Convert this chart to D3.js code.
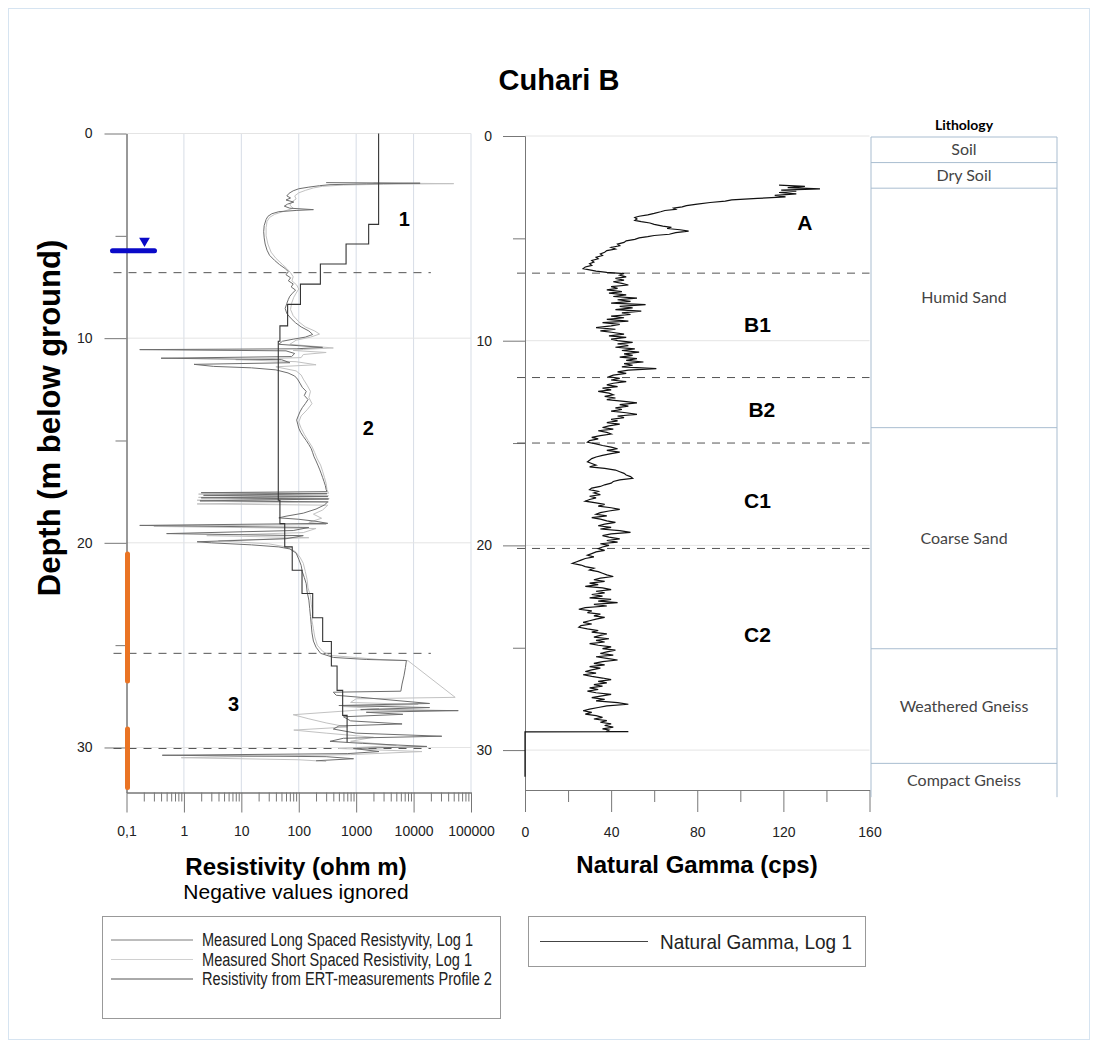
<!DOCTYPE html>
<html>
<head>
<meta charset="utf-8">
<script src="https://cdn.jsdelivr.net/npm/d3@7"></script>
<style>
body { margin: 0; background: #fff; }
text { font-family: "Liberation Sans", Arial, sans-serif; }
.narrow { font-family: "Liberation Sans Narrow", "Arial Narrow", "Liberation Sans", sans-serif; }
.litho { font-family: Lato, "Open Sans", sans-serif; }
</style>
</head>
<body>
<svg id="chart" width="1099" height="1048"></svg>
<script>
// ---- data ----
var resTicks = [0.1, 1, 10, 100, 1000, 10000, 100000];
var resTickLabels = ["0,1", "1", "10", "100", "1000", "10000", "100000"];
var depthTicks = [0, 10, 20, 30];
var depthMinor = [5, 15, 25];
var gammaTicks = [0, 40, 80, 120, 160];
var gammaMinor = [20, 60, 100, 140];

// measured long spaced resistivity [depth m, ohm m]
var longSpaced = [[2.40,300],[2.43,13000],[2.46,1500],[2.50,350],[2.55,230],[2.62,150],[2.70,100],[2.80,80],[2.92,68],[3.05,62],[3.15,72],[3.25,60],[3.35,82],[3.45,64],[3.55,56],[3.65,70],[3.72,180],[3.76,90],[3.82,45],[3.92,34],[4.05,29],[4.20,27],[4.50,25],[4.80,24.5],[5.10,25],[5.40,26],[5.70,28],[5.95,31],[6.20,38],[6.40,46],[6.60,58],[6.75,66],[6.90,60],[7.05,72],[7.20,66],[7.35,80],[7.50,74],[7.65,88],[7.80,78],[7.95,70],[8.10,66],[8.30,62],[8.55,58],[8.80,62],[9.05,74],[9.25,88],[9.45,110],[9.65,150],[9.82,175],[9.95,130],[10.05,80],[10.15,52],[10.30,45],[10.45,260],[10.52,90],[10.56,0.17],[10.62,60],[10.75,85],[10.90,75],[10.98,0.4],[11.05,50],[11.20,70],[11.28,1.5],[11.38,3.3],[11.45,15],[11.55,40],[11.70,65],[11.85,85],[12.00,95],[12.20,105],[12.40,115],[12.60,135],[12.80,125],[13.00,145],[13.20,130],[13.40,115],[13.60,105],[13.80,98],[14.00,92],[14.20,96],[14.40,100],[14.60,108],[14.80,120],[15.00,135],[15.20,150],[15.40,165],[15.60,175],[15.80,185],[16.00,200],[16.20,215],[16.40,230],[16.60,245],[16.80,260],[17.00,275],[17.20,290],[17.40,300],[17.50,310],[17.55,2.0],[17.60,310],[17.68,2.2],[17.74,320],[17.80,2.0],[17.86,330],[17.95,1.9],[18.00,320],[18.15,280],[18.35,200],[18.55,120],[18.70,60],[18.78,45],[18.85,100],[18.95,200],[19.05,320],[19.15,0.17],[19.25,150],[19.40,80],[19.55,0.5],[19.65,120],[19.80,60],[19.95,1.7],[20.00,3.0],[20.10,15],[20.20,45],[20.30,70],[20.50,90],[20.80,100],[21.10,110],[21.40,115],[21.70,125],[22.00,135],[22.40,140],[22.80,150],[23.20,155],[23.60,160],[24.00,165],[24.40,170],[24.80,180],[25.10,200],[25.40,240],[25.60,400],[25.70,1500],[25.75,7500],[26.10,7200],[26.50,6800],[26.90,6300],[27.25,6000],[27.30,400],[27.45,450],[27.55,1200],[27.85,19000],[27.95,500],[28.05,19000],[28.15,1200],[28.20,60000],[28.28,1500],[28.38,6500],[28.50,600],[28.70,800],[28.85,6300],[28.95,500],[29.10,400],[29.30,1000],[29.45,31000],[29.55,600],[29.70,350],[29.80,1300],[29.95,17000],[30.05,900],[30.20,2500],[30.30,700],[30.38,0.42],[30.45,300],[30.55,900],[30.65,200]];

// measured short spaced resistivity [depth m, ohm m]
var shortSpaced = [[2.42,2000],[2.45,50000],[2.48,3000],[2.52,600],[2.58,260],[2.66,180],[2.78,130],[2.90,100],[3.05,85],[3.20,90],[3.35,75],[3.50,70],[3.65,80],[3.80,55],[3.95,38],[4.10,31],[4.30,28],[4.60,27],[5.00,27],[5.40,29],[5.80,33],[6.10,40],[6.40,52],[6.60,62],[6.80,72],[7.00,80],[7.20,76],[7.40,92],[7.60,100],[7.80,90],[8.00,82],[8.30,75],[8.60,72],[8.90,80],[9.20,100],[9.45,130],[9.65,190],[9.80,230],[9.95,160],[10.10,90],[10.30,70],[10.48,400],[10.55,120],[10.60,80],[10.70,300],[10.80,120],[10.95,110],[11.05,8],[11.15,90],[11.30,200],[11.40,40],[11.60,90],[11.80,110],[12.00,120],[12.30,140],[12.60,160],[12.90,150],[13.20,170],[13.50,140],[13.80,110],[14.10,100],[14.40,110],[14.70,125],[15.00,145],[15.30,170],[15.60,190],[15.90,210],[16.20,240],[16.50,260],[16.80,280],[17.10,300],[17.40,310],[17.58,330],[17.62,1.8],[17.70,330],[17.78,1.8],[17.84,340],[17.92,1.7],[18.00,330],[18.10,1.7],[18.16,320],[18.40,260],[18.60,180],[18.80,250],[19.00,150],[19.10,300],[19.20,0.3],[19.30,200],[19.50,120],[19.65,2.5],[19.75,150],[19.90,4],[20.05,30],[20.20,60],[20.40,85],[20.70,105],[21.00,120],[21.40,130],[21.80,140],[22.20,145],[22.60,160],[23.00,165],[23.40,175],[23.80,170],[24.20,180],[24.60,190],[25.00,210],[25.30,260],[25.50,350],[25.70,2500],[25.76,8000],[27.55,53000],[27.62,1000],[27.80,800],[27.90,12000],[28.00,600],[28.10,2500],[28.40,80],[28.60,150],[28.80,300],[29.00,700],[29.15,82],[29.30,300],[29.50,2000],[29.70,800],[29.90,5000],[30.05,500],[30.20,14000],[30.35,800],[30.50,0.9],[30.60,100],[30.68,300]];

// ERT profile 2, layer tops / bottoms (m) and resistivity (ohm m)
var ertTop = [0, 4.44, 5.40, 6.38, 7.36, 8.35, 9.40, 10.15, 17.92, 19.06, 20.20, 21.34, 22.48, 23.66, 24.82, 26.02, 27.21, 28.43];
var ertBottom = [4.44, 5.40, 6.38, 7.36, 8.35, 9.40, 10.15, 17.92, 19.06, 20.20, 21.34, 22.48, 23.66, 24.82, 26.02, 27.21, 28.43, 29.75];
var ertValue = [2460, 1650, 667, 238, 107, 64, 47, 44, 47, 57, 77, 114, 175, 261, 370, 465, 582, 695];

// natural gamma [depth m, cps]
var gamma = [[2.40,118],[2.46,130],[2.52,122],[2.58,137],[2.64,119],[2.70,126],[2.76,118],[2.83,126],[2.90,116],[2.97,121],[3.05,108],[3.12,96],[3.18,93],[3.25,86],[3.33,80],[3.40,75],[3.46,73],[3.52,69],[3.58,70],[3.64,65],[3.70,63],[3.78,60],[3.85,57],[3.92,53],[3.98,51],[4.05,52],[4.12,51],[4.18,54],[4.25,58],[4.32,60],[4.40,64],[4.46,68],[4.52,66],[4.58,72],[4.65,76],[4.72,70],[4.80,67],[4.86,60],[4.92,57],[4.98,53],[5.05,51],[5.12,47],[5.20,46],[5.28,43],[5.36,44],[5.44,40],[5.52,42],[5.60,38],[5.68,37],[5.76,35],[5.84,36],[5.92,33],[6.00,34],[6.08,31],[6.16,32],[6.24,30],[6.32,31],[6.40,28],[6.48,27],[6.54,30],[6.60,33],[6.66,38],[6.72,46],
 [6.80,44],[6.88,47],[6.96,42],[7.04,46],[7.12,41],[7.20,45],[7.28,48],[7.36,40],[7.44,43],[7.52,38],[7.60,45],[7.68,39],[7.76,47],[7.84,41],[7.92,52],[8.00,43],[8.08,49],[8.16,40],[8.24,56],[8.32,44],[8.40,50],[8.48,42],[8.56,54],[8.64,45],[8.72,49],[8.80,40],[8.88,46],[8.96,38],[9.04,48],[9.12,36],[9.20,44],[9.28,40],[9.36,33],[9.44,42],[9.52,35],[9.60,41],[9.68,46],[9.76,39],[9.84,47],[9.92,40],[10.00,43],[10.08,50],[10.16,43],[10.24,48],[10.32,42],[10.40,51],[10.48,45],[10.56,53],[10.64,46],[10.72,50],[10.80,44],[10.88,52],[10.96,47],[11.04,55],[11.12,46],[11.20,50],[11.28,45],[11.36,61],[11.44,48],[11.52,43],[11.60,47],[11.68,41],[11.76,39],[11.84,44],[11.92,40],[12.00,47],[12.08,41],[12.16,38],[12.24,43],[12.32,36],[12.40,40],[12.48,34],[12.56,39],[12.64,41],[12.72,37],[12.80,42],[12.88,38],[12.96,46],[13.04,52],[13.12,44],[13.20,48],[13.28,42],[13.36,45],[13.44,40],[13.52,47],[13.60,52],[13.68,43],[13.76,46],[13.84,40],[13.92,43],[14.00,38],[14.08,44],[14.16,39],[14.24,36],[14.32,41],[14.40,34],[14.48,38],[14.56,40],[14.64,35],[14.72,31],[14.80,34],[14.88,30],[14.96,29],[15.04,33],[15.12,36],[15.20,40],[15.28,43],[15.36,38],[15.44,44],[15.52,40],[15.60,36],[15.68,33],[15.76,31],[15.84,30],[15.92,29],[16.00,31],[16.08,33],[16.16,30],[16.24,37],[16.32,42],[16.40,44],[16.48,46],[16.56,47],[16.64,49],[16.72,50],[16.80,44],[16.88,41],[16.96,40],[17.04,37],[17.12,35],[17.20,31],[17.28,30],[17.36,34],[17.44,32],[17.52,35],[17.60,30],[17.68,33],[17.76,30],[17.84,28],[17.92,33],[18.00,37],[18.08,34],[18.16,40],[18.24,44],[18.32,39],[18.40,35],[18.48,33],[18.56,38],[18.64,31],[18.72,35],[18.80,38],[18.88,42],[18.96,37],[19.04,34],[19.12,40],[19.20,35],[19.28,44],[19.36,49],[19.44,40],[19.52,36],[19.60,39],[19.68,44],[19.76,38],[19.84,43],[19.92,35],[20.00,39],[20.08,36],[20.16,34],[20.24,37],[20.32,33],[20.40,31],[20.48,29],[20.56,32],[20.64,28],[20.72,26],[20.80,24],[20.88,22],[20.96,26],[21.04,28],[21.12,32],[21.20,30],[21.28,34],[21.36,36],[21.44,38],[21.52,41],[21.60,35],[21.68,32],[21.76,37],[21.84,30],[21.92,34],[22.00,28],[22.08,36],[22.16,40],[22.24,33],[22.32,37],[22.40,31],[22.48,36],[22.56,30],[22.64,40],[22.72,34],[22.80,43],[22.88,32],[22.96,38],[23.04,28],[23.12,25],[23.20,31],[23.28,29],[23.36,35],[23.44,32],[23.52,37],[23.60,33],[23.68,30],[23.76,27],[23.84,31],[23.92,26],[24.00,25],[24.08,29],[24.16,34],[24.24,31],[24.32,38],[24.40,35],[24.48,32],[24.56,39],[24.64,33],[24.72,37],[24.80,30],[24.88,34],[24.96,40],[25.04,36],[25.12,42],[25.20,38],[25.28,35],[25.36,41],[25.44,33],[25.52,38],[25.60,43],[25.68,36],[25.76,32],[25.84,37],[25.92,30],[26.00,35],[26.08,31],[26.16,28],[26.24,33],[26.32,27],[26.40,31],[26.48,36],[26.56,40],[26.64,34],[26.72,38],[26.80,32],[26.88,36],[26.96,30],[27.04,34],[27.12,29],[27.20,33],[27.28,40],[27.36,35],[27.44,31],[27.52,37],[27.60,33],[27.68,43],[27.76,48],[27.84,38],[27.92,34],[28.00,30],[28.08,27],[28.16,31],[28.24,28],[28.32,33],[28.40,36],[28.48,32],[28.56,38],[28.64,35],[28.72,40],[28.80,37],[28.88,41],[28.96,36],[29.02,39],[29.08,38],[29.10,48],[29.11,0],[31.30,0]];

var resBoundaries = [6.8, 25.4, 30.05];
var gammaBoundaries = [6.7, 11.8, 15.0, 20.15];
var waterLevel = 5.73;
var screenTop = [20.55, 29.1];
var screenBottom = [26.75, 31.95];

var resZoneNames = ["1", "2", "3"];
var resZoneValue = [6900, 1630, 7.3];
var resZoneDepth = [4.2, 14.4, 27.9];
var gammaZoneNames = ["A", "B1", "B2", "C1", "C2"];
var gammaZoneValue = [130, 108, 110, 108, 108];
var gammaZoneDepth = [4.25, 9.2, 13.35, 17.8, 24.35];

var lithoNames = ["Soil", "Dry Soil", "Humid Sand", "Coarse Sand", "Weathered Gneiss", "Compact Gneiss"];
var lithoTop = [0, 1.25, 2.5, 14.2, 25.0, 30.6];
var lithoBottom = [1.25, 2.5, 14.2, 25.0, 30.6, 32.3];

var resLegend = ["Measured Long Spaced Resistyvity, Log 1", "Measured Short Spaced Resistivity, Log 1", "Resistivity from ERT-measurements Profile 2"];
var gammaLegend = ["Natural Gamma, Log 1"];

// ---- drawing ----
var svg = d3.select("#chart");

svg.append("rect")
  .attr("x", 8.5).attr("y", 8.5)
  .attr("width", 1081).attr("height", 1031)
  .attr("fill", "none")
  .attr("stroke", "#d6e4f1");

svg.append("text")
  .attr("x", 559).attr("y", 90)
  .attr("text-anchor", "middle")
  .style("font-size", "29px").style("font-weight", "bold")
  .text("Cuhari B");

// scales
var xRes = d3.scaleLog().domain([0.1, 100000]).range([126.5, 471]);
var yRes = d3.scaleLinear().domain([0, 32.2]).range([133.5, 792.5]);
var xGam = d3.scaleLinear().domain([0, 160]).range([525, 869.5]);
var yGam = d3.scaleLinear().domain([0, 31.95]).range([136, 790]);

// left panel grid
var gL = svg.append("g");
gL.selectAll(".vgrid")
  .data(resTicks.slice(1))
  .enter().append("line")
  .attr("x1", function(d) { return xRes(d); })
  .attr("x2", function(d) { return xRes(d); })
  .attr("y1", yRes(0)).attr("y2", yRes.range()[1])
  .attr("stroke", "#d7dde6");
gL.selectAll(".hgrid")
  .data(depthTicks)
  .enter().append("line")
  .attr("x1", xRes.range()[0]).attr("x2", xRes.range()[1])
  .attr("y1", function(d) { return yRes(d); })
  .attr("y2", function(d) { return yRes(d); })
  .attr("stroke", "#e4e4e4");

// left axes
var leftMajor = svg.append("g")
  .attr("transform", "translate(" + xRes.range()[0] + ",0)")
  .call(d3.axisLeft(yRes).tickValues(depthTicks).tickSize(22).tickSizeOuter(0).tickPadding(12));
var leftMinor = svg.append("g")
  .attr("transform", "translate(" + xRes.range()[0] + ",0)")
  .call(d3.axisLeft(yRes).tickValues(depthMinor).tickSize(11).tickSizeOuter(0).tickFormat(""));

var minorRes = [];
resTicks.slice(0, -1).forEach(function(t) {
  [2, 3, 4, 5, 6, 7, 8, 9].forEach(function(m) { minorRes.push(t * m); });
});
var botMajor = svg.append("g")
  .attr("transform", "translate(0," + yRes.range()[1] + ")")
  .call(d3.axisBottom(xRes).tickValues(resTicks).tickSize(20).tickSizeOuter(0).tickPadding(14)
    .tickFormat(function(d, i) { return resTickLabels[i]; }));
var botMinor = svg.append("g")
  .attr("transform", "translate(0," + yRes.range()[1] + ")")
  .call(d3.axisBottom(xRes).tickValues(minorRes).tickSize(9).tickSizeOuter(0).tickFormat(""));

// right panel grid
var gR = svg.append("g");
gR.selectAll(".hgrid")
  .data(depthTicks)
  .enter().append("line")
  .attr("x1", xGam.range()[0]).attr("x2", xGam.range()[1])
  .attr("y1", function(d) { return yGam(d); })
  .attr("y2", function(d) { return yGam(d); })
  .attr("stroke", "#e4e4e4");

var rightMajor = svg.append("g")
  .attr("transform", "translate(" + xGam.range()[0] + ",0)")
  .call(d3.axisLeft(yGam).tickValues(depthTicks).tickSize(22).tickSizeOuter(0).tickPadding(11));
var rightMinor = svg.append("g")
  .attr("transform", "translate(" + xGam.range()[0] + ",0)")
  .call(d3.axisLeft(yGam).tickValues(depthMinor).tickSize(12).tickSizeOuter(0).tickFormat(""));
var gBotMajor = svg.append("g")
  .attr("transform", "translate(0," + yGam.range()[1] + ")")
  .call(d3.axisBottom(xGam).tickValues(gammaTicks).tickSize(22).tickSizeOuter(0).tickPadding(15));
var gBotMinor = svg.append("g")
  .attr("transform", "translate(0," + yGam.range()[1] + ")")
  .call(d3.axisBottom(xGam).tickValues(gammaMinor).tickSize(12).tickSizeOuter(0).tickFormat(""));

[leftMajor, leftMinor, botMajor, botMinor, rightMajor, rightMinor, gBotMajor, gBotMinor].forEach(function(ax) {
  ax.selectAll("path").attr("stroke", "#777");
  ax.selectAll("line").attr("stroke", "#777");
  ax.selectAll("text").style("font-size", "14px").attr("fill", "#222")
    .style("font-family", "'Liberation Sans', Arial, sans-serif");
});

// dashed boundaries
svg.selectAll(".resBound")
  .data(resBoundaries)
  .enter().append("line")
  .attr("x1", xRes.range()[0] - 13).attr("x2", xRes(20000))
  .attr("y1", function(d) { return yRes(d); })
  .attr("y2", function(d) { return yRes(d); })
  .attr("stroke", "#555").attr("stroke-dasharray", "8,7");
svg.selectAll(".gamBound")
  .data(gammaBoundaries)
  .enter().append("line")
  .attr("x1", xGam.range()[0] - 8).attr("x2", xGam.range()[1])
  .attr("y1", function(d) { return yGam(d); })
  .attr("y2", function(d) { return yGam(d); })
  .attr("stroke", "#555").attr("stroke-dasharray", "8,7");

// resistivity curves
var resLine = d3.line()
  .x(function(d) { return xRes(d[1]); })
  .y(function(d) { return yRes(d[0]); });

svg.append("path").datum(shortSpaced)
  .attr("d", resLine).attr("fill", "none")
  .attr("stroke", "#c2c2c2").attr("stroke-width", 1);
svg.append("path").datum(longSpaced)
  .attr("d", resLine).attr("fill", "none")
  .attr("stroke", "#6e6e6e").attr("stroke-width", 1);

var ertPts = [];
ertValue.forEach(function(v, i) {
  ertPts.push([ertTop[i], v]);
  ertPts.push([ertBottom[i], v]);
});
svg.append("path").datum(ertPts)
  .attr("d", resLine).attr("fill", "none")
  .attr("stroke", "#333").attr("stroke-width", 1.1);

// water level and screens
svg.append("line")
  .attr("x1", xRes.range()[0] - 14).attr("x2", xRes.range()[0] + 28)
  .attr("y1", yRes(waterLevel)).attr("y2", yRes(waterLevel))
  .attr("stroke", "#0a0ac8").attr("stroke-width", 5).attr("stroke-linecap", "round");
svg.append("path")
  .attr("d", d3.symbol().type(d3.symbolTriangle).size(50))
  .attr("transform", "translate(" + (xRes.range()[0] + 18) + "," + (yRes(waterLevel) - 10) + ") rotate(180)")
  .attr("fill", "#0a0ac8");

svg.selectAll(".screen")
  .data(screenTop)
  .enter().append("line")
  .attr("x1", xRes.range()[0] + 1).attr("x2", xRes.range()[0] + 1)
  .attr("y1", function(d) { return yRes(d); })
  .attr("y2", function(d, i) { return yRes(screenBottom[i]); })
  .attr("stroke", "#ea7424").attr("stroke-width", 5).attr("stroke-linecap", "round");

// gamma curve
var gamLine = d3.line()
  .x(function(d) { return xGam(d[1]); })
  .y(function(d) { return yGam(d[0]); });
svg.append("path").datum(gamma)
  .attr("d", gamLine).attr("fill", "none")
  .attr("stroke", "#111").attr("stroke-width", 1.2);

// zone labels
svg.selectAll(".resZone")
  .data(resZoneNames)
  .enter().append("text")
  .attr("x", function(d, i) { return xRes(resZoneValue[i]); })
  .attr("y", function(d, i) { return yRes(resZoneDepth[i]); })
  .attr("dy", "0.35em").attr("text-anchor", "middle")
  .style("font-size", "20px").style("font-weight", "bold")
  .text(function(d) { return d; });
svg.selectAll(".gamZone")
  .data(gammaZoneNames)
  .enter().append("text")
  .attr("x", function(d, i) { return xGam(gammaZoneValue[i]); })
  .attr("y", function(d, i) { return yGam(gammaZoneDepth[i]); })
  .attr("dy", "0.35em").attr("text-anchor", "middle")
  .style("font-size", "21px").style("font-weight", "bold")
  .text(function(d) { return d; });

// axis titles
svg.append("text")
  .attr("transform", "translate(49," + yRes(13.9) + ") rotate(-90)")
  .attr("text-anchor", "middle").attr("dy", "0.35em")
  .style("font-size", "31px").style("font-weight", "bold")
  .text("Depth (m below ground)");
svg.append("text")
  .attr("x", 296).attr("y", 875)
  .attr("text-anchor", "middle")
  .style("font-size", "24px").style("font-weight", "bold")
  .text("Resistivity (ohm m)");
svg.append("text")
  .attr("x", 296).attr("y", 899)
  .attr("text-anchor", "middle")
  .style("font-size", "21px")
  .text("Negative values ignored");
svg.append("text")
  .attr("x", 697).attr("y", 873)
  .attr("text-anchor", "middle")
  .style("font-size", "24px").style("font-weight", "bold")
  .text("Natural Gamma (cps)");

// lithology column
var lithoL = 871, lithoR = 1057;
var gLi = svg.append("g");
gLi.append("text")
  .attr("class", "litho")
  .attr("x", (lithoL + lithoR) / 2).attr("y", 130)
  .attr("text-anchor", "middle")
  .style("font-size", "14px").style("font-weight", "bold")
  .text("Lithology");
gLi.selectAll(".lt")
  .data(lithoTop)
  .enter().append("line")
  .attr("x1", lithoL).attr("x2", lithoR)
  .attr("y1", function(d) { return yGam(d) + 1; })
  .attr("y2", function(d) { return yGam(d) + 1; })
  .attr("stroke", "#a9bdd0");
[lithoL, lithoR].forEach(function(x) {
  gLi.append("line")
    .attr("x1", x).attr("x2", x)
    .attr("y1", yGam(0) + 1).attr("y2", yGam(lithoBottom[lithoBottom.length - 1]))
    .attr("stroke", "#a9bdd0");
});
gLi.selectAll(".ln")
  .data(lithoNames)
  .enter().append("text")
  .attr("class", "litho")
  .attr("x", (lithoL + lithoR) / 2)
  .attr("y", function(d, i) {
    var mid = (yGam(lithoTop[i]) + yGam(lithoBottom[i])) / 2;
    return d === "Humid Sand" ? mid - 10 : mid + 1;
  })
  .attr("dy", "0.35em").attr("text-anchor", "middle")
  .style("font-size", "16px").attr("fill", "#444")
  .text(function(d) { return d; });

// legends
var legL = svg.append("g");
legL.append("rect")
  .attr("x", 102.5).attr("y", 916.5).attr("width", 398).attr("height", 102)
  .attr("fill", "none").attr("stroke", "#999");
var legColors = ["#7a7a7a", "#d0d0d0", "#555"];
var legWidths = [271, 270, 290];
legL.selectAll(".ll")
  .data(resLegend)
  .enter().append("line")
  .attr("x1", 111).attr("x2", 193)
  .attr("y1", function(d, i) { return 940 + i * 19.5; })
  .attr("y2", function(d, i) { return 940 + i * 19.5; })
  .attr("stroke", function(d, i) { return legColors[i]; });
legL.selectAll(".lt")
  .data(resLegend)
  .enter().append("text")
  .attr("class", "narrow")
  .attr("x", 202)
  .attr("y", function(d, i) { return 940 + i * 19.5; })
  .attr("dy", "0.35em")
  .attr("textLength", function(d, i) { return legWidths[i]; })
  .attr("lengthAdjust", "spacingAndGlyphs")
  .style("font-size", "18px").attr("fill", "#222")
  .text(function(d) { return d; });

var legR = svg.append("g");
legR.append("rect")
  .attr("x", 528.5).attr("y", 916.5).attr("width", 337).attr("height", 50)
  .attr("fill", "none").attr("stroke", "#999");
legR.append("line")
  .attr("x1", 540).attr("x2", 648).attr("y1", 941.5).attr("y2", 941.5)
  .attr("stroke", "#444");
legR.append("text")
  .attr("class", "narrow")
  .attr("x", 660).attr("y", 941.5).attr("dy", "0.35em")
  .attr("textLength", 192).attr("lengthAdjust", "spacingAndGlyphs")
  .style("font-size", "21px").attr("fill", "#222")
  .text(gammaLegend[0]);
</script>
</body>
</html>
